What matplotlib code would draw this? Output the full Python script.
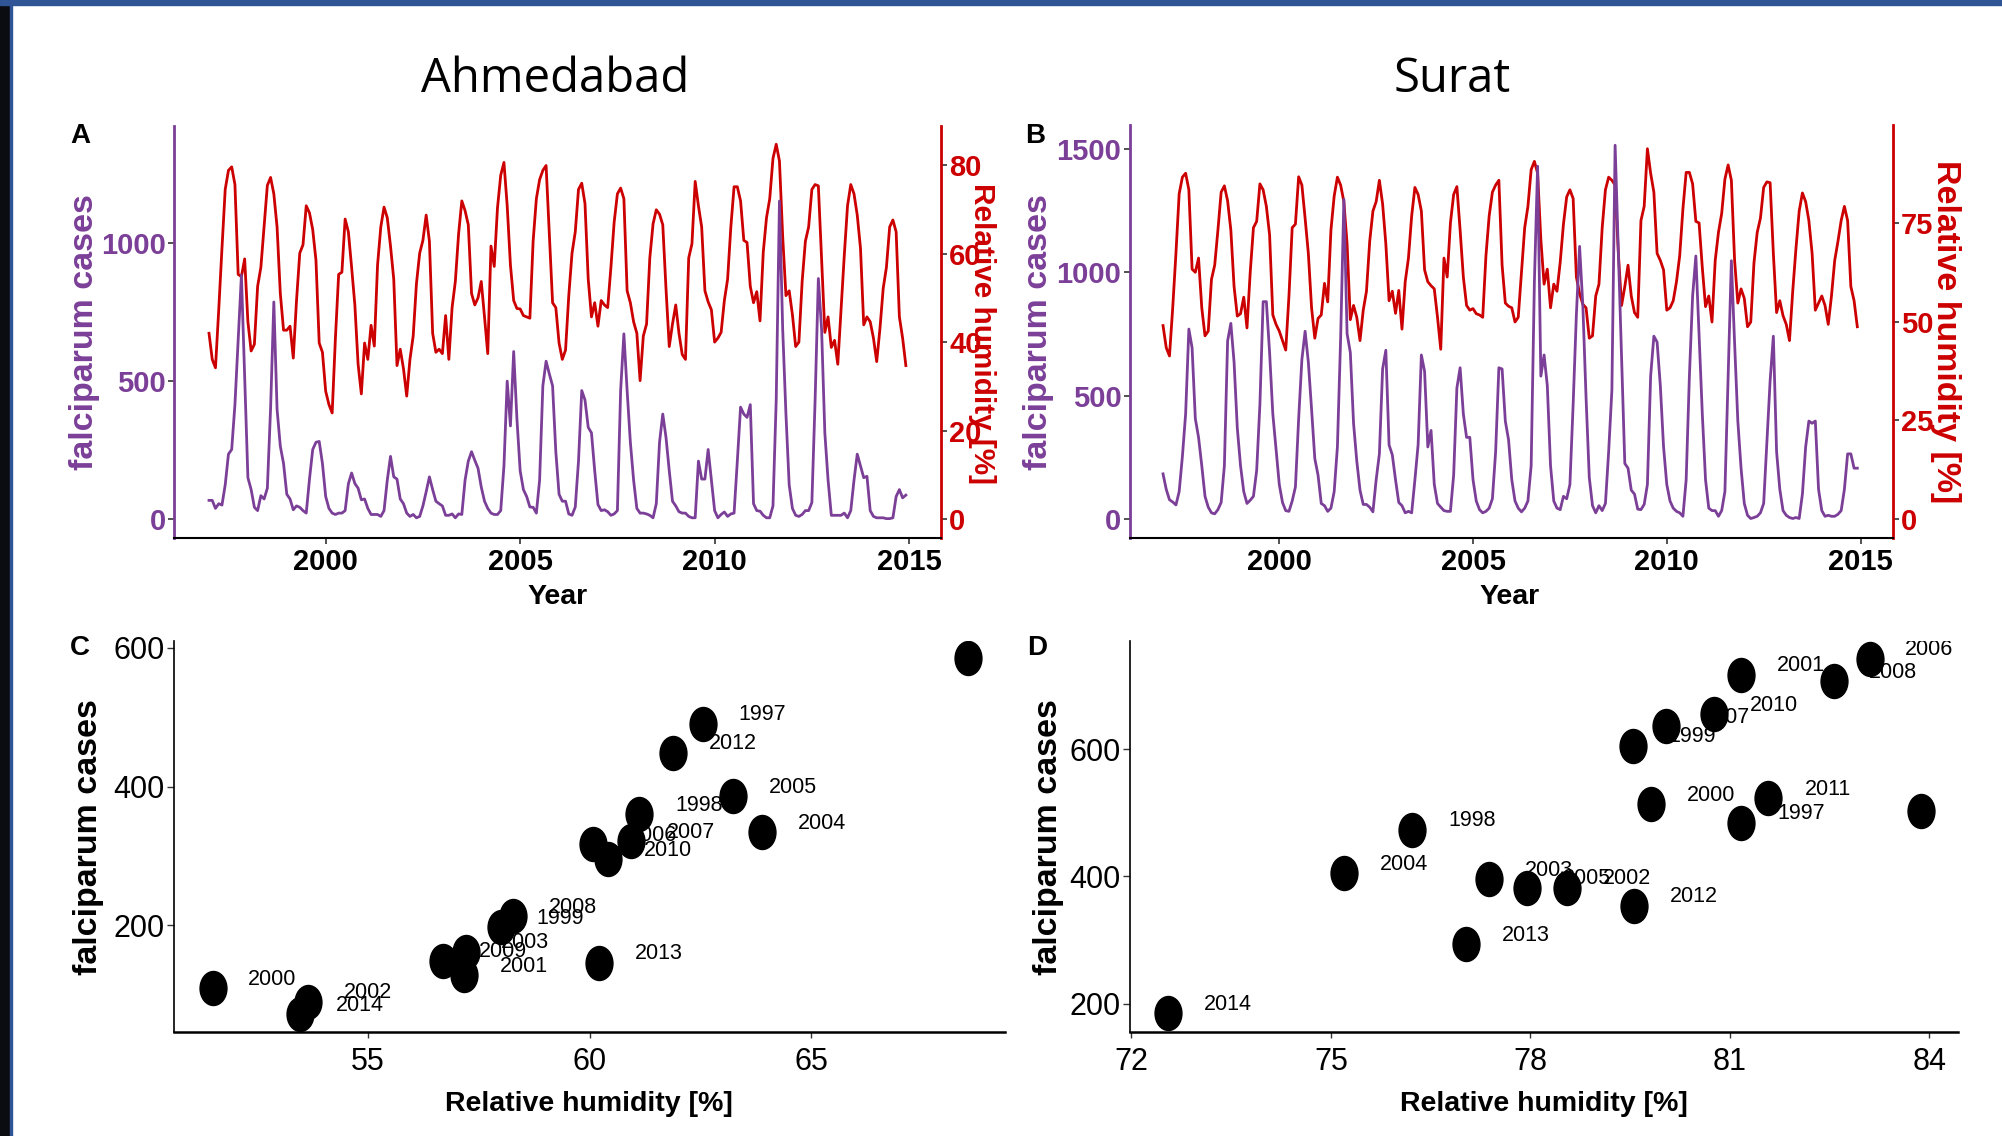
import numpy as np
import pandas as pd
import matplotlib
matplotlib.use('Agg')
import matplotlib.pyplot as plt
import matplotlib.path as mpath
from matplotlib.patches import Rectangle

# ---------------- DATA ----------------
months = pd.date_range('1997-01-01', periods=216, freq='MS')
t = np.asarray(months.year + (months.month - 1) / 12.0, dtype=float)

ahm_cases = [
    68, 68, 39, 56, 51, 124, 235, 252, 414, 650, 882, 516,
    150, 107, 43, 31, 85, 73, 112, 400, 785, 397, 264, 201,
    90, 73, 34, 48, 43, 31, 22, 145, 252, 278, 281, 201,
    82, 39, 22, 17, 22, 22, 31, 128, 167, 129, 112, 70,
    73, 39, 17, 17, 17, 10, 31, 141, 227, 153, 145, 73,
    56, 22, 10, 17, 5, 10, 48, 99, 153, 107, 65, 56,
    48, 14, 14, 19, 5, 19, 17, 141, 210, 244, 213, 184,
    116, 65, 39, 22, 17, 17, 31, 193, 499, 337, 606, 363,
    175, 107, 82, 44, 43, 22, 141, 482, 571, 525, 482, 244,
    90, 65, 65, 19, 14, 44, 210, 465, 431, 332, 312, 175,
    53, 31, 34, 27, 14, 19, 31, 465, 670, 465, 278, 141,
    39, 22, 22, 19, 14, 5, 56, 278, 380, 295, 175, 65,
    48, 27, 22, 22, 10, 5, 5, 210, 145, 145, 252, 141,
    31, 5, 17, 26, 10, 19, 22, 210, 405, 380, 368, 414,
    56, 31, 29, 14, 5, 5, 48, 431, 1150, 686, 380, 124,
    39, 14, 10, 17, 31, 31, 60, 431, 870, 686, 312, 141,
    14, 14, 14, 14, 22, 5, 31, 141, 235, 193, 150, 155,
    31, 10, 5, 5, 5, 2, 2, 5, 82, 107, 77, 87,
]
ahm_rh = [
    42.0, 36.1, 34.2, 47.3, 61.2, 74.5, 78.8, 79.6, 75.6, 55.3, 54.8, 58.8,
    44.6, 38.0, 39.5, 52.6, 56.9, 66.0, 75.4, 77.2, 73.5, 66.0, 51.0, 42.7,
    42.7, 43.6, 36.4, 49.4, 60.1, 62.0, 70.8, 69.2, 65.4, 58.5, 39.8, 37.7,
    28.9, 25.9, 24.0, 40.9, 55.3, 55.8, 67.8, 64.9, 56.9, 48.4, 35.0, 28.3,
    39.8, 36.1, 43.8, 39.1, 57.4, 66.0, 70.5, 68.1, 61.7, 54.2, 34.7, 38.4,
    34.0, 27.8, 36.1, 41.4, 53.2, 60.1, 63.0, 68.7, 62.8, 42.0, 37.7, 38.4,
    37.4, 46.0, 36.1, 47.8, 53.7, 64.4, 71.9, 69.7, 66.5, 51.0, 48.4, 50.0,
    53.7, 45.7, 37.4, 61.7, 57.1, 70.3, 77.7, 80.6, 70.8, 57.4, 49.4, 47.6,
    47.5, 46.0, 45.7, 45.4, 62.8, 72.4, 76.7, 78.8, 79.9, 64.4, 48.9, 47.8,
    39.8, 36.1, 38.2, 50.5, 60.1, 64.9, 74.5, 75.9, 71.3, 54.2, 45.7, 48.9,
    43.6, 49.4, 48.4, 47.8, 56.9, 67.1, 73.5, 74.8, 72.4, 51.6, 48.9, 44.6,
    42.0, 31.3, 41.4, 44.1, 59.0, 66.7, 69.9, 68.9, 66.5, 52.0, 39.0, 44.1,
    48.4, 42.0, 37.2, 36.1, 59.0, 62.2, 76.3, 70.8, 66.0, 51.6, 49.1, 47.3,
    40.0, 40.9, 42.2, 49.4, 54.2, 66.0, 75.1, 75.1, 71.9, 63.0, 62.5, 52.6,
    48.9, 51.4, 44.8, 60.3, 68.1, 72.4, 81.5, 84.7, 80.9, 63.8, 50.5, 51.6,
    46.2, 39.0, 40.0, 53.7, 62.8, 66.0, 74.5, 75.6, 75.3, 59.0, 42.2, 45.7,
    38.8, 40.4, 35.0, 47.3, 59.6, 70.8, 75.6, 73.5, 68.7, 61.2, 43.9, 45.7,
    44.6, 40.9, 35.6, 43.0, 52.1, 56.9, 66.0, 67.6, 64.9, 45.7, 40.9, 34.7,
]
sur_cases = [
    183, 120, 78, 69, 57, 111, 254, 426, 770, 694, 407, 331,
    216, 92, 48, 25, 21, 38, 67, 216, 722, 793, 636, 369,
    216, 111, 63, 76, 92, 197, 464, 881, 881, 675, 426, 283,
    140, 67, 34, 31, 73, 130, 407, 646, 761, 636, 445, 245,
    178, 63, 54, 31, 44, 111, 292, 732, 1296, 751, 675, 388,
    235, 117, 59, 59, 48, 29, 159, 264, 608, 684, 300, 260,
    159, 67, 54, 25, 31, 25, 159, 302, 665, 598, 292, 359,
    140, 63, 48, 34, 31, 31, 178, 531, 613, 426, 331, 331,
    159, 73, 38, 25, 31, 44, 82, 273, 613, 608, 397, 321,
    159, 73, 44, 29, 44, 73, 216, 961, 1430, 579, 665, 541,
    216, 73, 44, 38, 92, 82, 140, 464, 827, 1105, 866, 493,
    168, 54, 25, 54, 34, 63, 273, 522, 1515, 1085, 655, 225,
    206, 117, 101, 40, 38, 59, 140, 579, 741, 717, 541, 292,
    140, 73, 44, 31, 25, 11, 159, 579, 904, 1066, 751, 426,
    159, 44, 34, 34, 11, 34, 111, 579, 1047, 713, 397, 206,
    63, 15, 2, 6, 11, 25, 63, 311, 560, 741, 273, 120,
    34, 15, 6, 2, 6, 2, 101, 292, 397, 388, 397, 120,
    34, 11, 15, 11, 11, 19, 34, 120, 264, 264, 206, 206,
]
sur_rh = [
    49.0, 43.4, 41.3, 53.5, 67.3, 82.4, 86.6, 87.6, 83.4, 63.3, 62.5, 66.1,
    53.5, 46.4, 47.6, 60.7, 64.3, 73.2, 82.8, 84.4, 80.6, 73.2, 58.9, 51.4,
    52.0, 56.2, 48.4, 62.5, 73.8, 75.4, 84.9, 83.4, 79.2, 72.0, 51.7, 49.3,
    47.6, 45.2, 42.8, 56.5, 73.8, 74.7, 86.7, 84.6, 76.2, 67.3, 53.5, 45.8,
    50.8, 51.7, 59.7, 55.0, 73.2, 81.8, 86.6, 84.6, 80.4, 69.7, 50.5, 54.1,
    51.1, 45.2, 52.9, 57.7, 70.3, 78.0, 80.4, 85.8, 79.8, 69.7, 55.3, 57.7,
    52.1, 57.9, 48.1, 60.1, 66.1, 76.8, 84.0, 82.2, 78.0, 63.1, 60.1, 59.1,
    58.3, 51.1, 43.0, 66.1, 61.3, 75.0, 82.2, 84.2, 73.2, 61.3, 54.1, 52.9,
    53.3, 52.0, 51.7, 51.1, 66.7, 76.8, 82.8, 84.6, 85.8, 64.3, 54.7, 53.9,
    53.5, 49.9, 51.1, 62.5, 73.8, 79.2, 88.5, 90.6, 87.6, 70.8, 59.5, 63.3,
    53.5, 59.5, 57.7, 65.1, 74.7, 81.6, 83.4, 81.2, 61.3, 57.1, 54.4, 53.5,
    45.8, 46.4, 56.5, 59.5, 73.8, 83.4, 86.6, 85.8, 84.6, 67.3, 54.1, 58.9,
    64.3, 56.5, 52.3, 51.1, 75.6, 79.2, 93.8, 87.6, 82.8, 67.3, 65.5, 63.1,
    52.9, 53.5, 55.3, 60.1, 66.7, 78.6, 87.8, 87.8, 84.9, 75.4, 75.0, 63.7,
    53.8, 56.5, 49.9, 65.5, 72.6, 77.4, 86.1, 89.7, 85.8, 65.5, 54.7, 58.3,
    55.9, 48.7, 49.9, 64.9, 72.6, 76.2, 84.0, 85.4, 85.2, 67.3, 52.3, 55.3,
    51.5, 49.3, 45.2, 57.7, 68.5, 78.0, 82.6, 80.4, 75.6, 67.3, 52.9, 54.7,
    56.5, 54.1, 49.3, 56.5, 65.5, 70.3, 75.6, 79.2, 75.6, 58.9, 55.3, 48.7,
]

years = list(range(1997, 2015))
ahm_year_rh = [62.55, 61.12, 57.99, 51.49, 57.17, 53.65, 57.20, 63.89, 63.24,
               60.08, 60.94, 58.28, 56.70, 60.41, 68.53, 61.88, 60.22, 53.46]
ahm_year_cases = [491, 360, 197, 109, 128, 90, 162, 334, 386,
                  317, 321, 213, 149, 295, 585, 449, 146, 72]
sur_year_rh = [81.17, 76.22, 79.54, 79.82, 81.17, 78.55, 77.38, 75.20, 77.95,
               83.10, 80.04, 82.56, 83.87, 80.76, 81.57, 79.56, 77.03, 72.55]
sur_year_cases = [484, 473, 605, 513, 717, 382, 395, 405, 382,
                  742, 636, 707, 503, 655, 523, 354, 293, 185]

time_ticks = [2000, 2005, 2010, 2015]
ahm_case_ticks = [0, 500, 1000]
ahm_rh_ticks = [0, 20, 40, 60, 80]
sur_case_ticks = [0, 500, 1000, 1500]
sur_rh_ticks = [0, 25, 50, 75]
ahm_sc_xticks = [55, 60, 65]
sur_sc_xticks = [72, 75, 78, 81, 84]
sc_yticks = [200, 400, 600]
SEC = 16  # secondary-axis scaling (cases = RH * 16)

# ---------------- STYLE ----------------
PURPLE = '#7B3F98'
RED = '#CC0000'
TICKC = '#333333'
BOLD = ['Liberation Sans', 'DejaVu Sans']
NARROW = ['Liberation Sans Narrow', 'Liberation Sans', 'DejaVu Sans']
TITLEF = ['Open Sans', 'DejaVu Sans']

W, H = 2002, 1136
DPI = 100
fig = plt.figure(figsize=(W / DPI, H / DPI), dpi=DPI)
fig.patch.set_facecolor('white')


def px_axes(l, r, t_, b):
    return fig.add_axes([l / W, 1 - b / H, (r - l) / W, (b - t_) / H])


def ftext(x, y, s, **kw):
    fig.text(x / W, 1 - y / H, s, ha='center', va='center', **kw)


# slide border
fig.patches.append(Rectangle((0, 0), 9.5 / W, 1, transform=fig.transFigure,
                             color='#0b0b12', zorder=10))
fig.patches.append(Rectangle((9.5 / W, 0), 2 / W, 1, transform=fig.transFigure,
                             color='#2f5597', zorder=10))
fig.patches.append(Rectangle((0, 1 - 4.5 / H), 1, 4.5 / H, transform=fig.transFigure,
                             color='#2f5597', zorder=10))


def ts_panel(l, r, cases, rh, ylim, case_ticks, rh_ticks, xlim):
    ax = px_axes(l, r, 125.5, 538)
    ax2 = ax.twinx()
    ax2.plot(t, rh, color=RED, lw=2.0, solid_joinstyle='round')
    ax.plot(t, cases, color=PURPLE, lw=2.0, solid_joinstyle='round')
    ax.set_zorder(ax2.get_zorder() + 1)
    ax.patch.set_visible(False)
    ax.set_xlim(*xlim)
    ax.set_ylim(*ylim)
    ax2.set_ylim(ylim[0] / SEC, ylim[1] / SEC)
    ax.set_xticks(time_ticks)
    ax.set_yticks(case_ticks)
    ax2.set_yticks(rh_ticks)
    for s in ['top', 'right']:
        ax.spines[s].set_visible(False)
    for s in ['top', 'left', 'bottom']:
        ax2.spines[s].set_visible(False)
    ax.spines['left'].set_color(PURPLE)
    ax.spines['left'].set_linewidth(2.0)
    ax.spines['bottom'].set_color('black')
    ax.spines['bottom'].set_linewidth(1.5)
    ax2.spines['right'].set_color(RED)
    ax2.spines['right'].set_linewidth(2.0)
    ax.tick_params(axis='x', colors=TICKC, length=4, width=1.2, pad=3,
                   labelcolor='black', labelsize=21)
    ax.tick_params(axis='y', colors=TICKC, length=4, width=1.2, pad=2,
                   labelcolor=PURPLE, labelsize=21)
    ax2.tick_params(axis='y', colors=TICKC, length=4, width=1.2, pad=2,
                    labelcolor=RED, labelsize=21)
    for lab in ax.get_xticklabels() + ax.get_yticklabels() + ax2.get_yticklabels():
        lab.set_fontfamily(BOLD)
        lab.set_fontweight('bold')
    return ax, ax2


ts_panel(174, 941, ahm_cases, ahm_rh, (-68, 1423), ahm_case_ticks, ahm_rh_ticks,
         (1996.10, 2015.82))
ts_panel(1129.7, 1892.7, sur_cases, sur_rh, (-77, 1595), sur_case_ticks, sur_rh_ticks,
         (1996.14, 2015.83))

# ellipse marker
circ = mpath.Path.unit_circle()
ell = mpath.Path(circ.vertices * np.array([0.79, 1.0]), circ.codes)


def sc_panel(l, r, xs, ys, xlim, ylim, xticks):
    ax = px_axes(l, r, 641, 1031.5)
    for yr, x, y in zip(years, xs, ys):
        ax.annotate(str(yr), (x, y), xytext=(43, 6.5), textcoords='offset points',
                    ha='center', va='center', fontsize=15.5, family=NARROW,
                    annotation_clip=False, clip_on=True, zorder=2)
    ax.plot(xs, ys, linestyle='none', marker=ell, markersize=24.5,
            color='black', zorder=3)
    ax.set_xlim(*xlim)
    ax.set_ylim(*ylim)
    ax.set_xticks(xticks)
    ax.set_yticks(sc_yticks)
    for s in ['top', 'right']:
        ax.spines[s].set_visible(False)
    ax.spines['left'].set_linewidth(1.2)
    ax.spines['bottom'].set_linewidth(1.8)
    ax.tick_params(axis='x', colors=TICKC, length=4.5, width=1.0, pad=7,
                   labelcolor='black', labelsize=22)
    ax.tick_params(axis='y', colors=TICKC, length=5, width=1.0, pad=2,
                   labelcolor='black', labelsize=22)
    for lab in ax.get_xticklabels() + ax.get_yticklabels():
        lab.set_fontfamily(NARROW)
    return ax


sc_panel(174, 1005, ahm_year_rh, ahm_year_cases, (50.62, 69.37), (47, 610), ahm_sc_xticks)
sc_panel(1130, 1958, sur_year_rh, sur_year_cases, (71.98, 84.43), (156, 770), sur_sc_xticks)

# titles
ftext(555, 79, 'Ahmedabad', fontsize=34, family=TITLEF)
ftext(1452, 79, 'Surat', fontsize=34, family=TITLEF)

# panel letters
for (x, y, s) in [(80, 136, 'A'), (1035, 136, 'B'), (80, 648, 'C'), (1037, 648, 'D')]:
    ftext(x, y, s, fontsize=20, family=BOLD, fontweight='bold')

# axis titles
ftext(85, 332, 'falciparum cases', fontsize=24.5, family=BOLD, fontweight='bold',
      color=PURPLE, rotation=90)
ftext(1038, 332, 'falciparum cases', fontsize=24.5, family=BOLD, fontweight='bold',
      color=PURPLE, rotation=90)
ftext(982, 333, 'Relative humidity [%]', fontsize=21.4, family=BOLD, fontweight='bold',
      color=RED, rotation=270)
ftext(1945, 332, 'Relative humidity [%]', fontsize=24.5, family=BOLD, fontweight='bold',
      color=RED, rotation=270)
ftext(558, 597, 'Year', fontsize=20.5, family=BOLD, fontweight='bold')
ftext(1510, 597, 'Year', fontsize=20.5, family=BOLD, fontweight='bold')
ftext(89, 837, 'falciparum cases', fontsize=24.5, family=BOLD, fontweight='bold',
      rotation=90)
ftext(1048, 837, 'falciparum cases', fontsize=24.5, family=BOLD, fontweight='bold',
      rotation=90)
ftext(589, 1104, 'Relative humidity [%]', fontsize=20.5, family=BOLD, fontweight='bold')
ftext(1544, 1104, 'Relative humidity [%]', fontsize=20.5, family=BOLD, fontweight='bold')

fig.savefig('out.png', dpi=DPI)
